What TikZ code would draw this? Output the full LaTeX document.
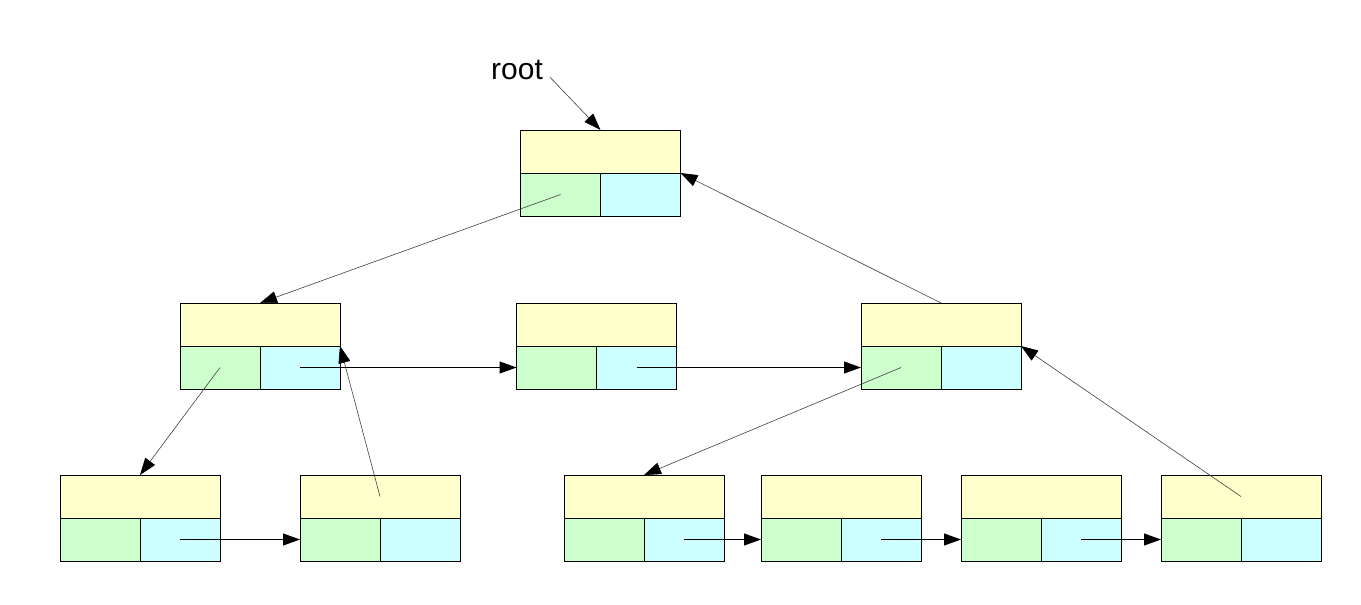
\documentclass[tikz,border=0pt]{standalone}
\usepackage{fontspec}
\setmainfont{Liberation Sans}
\usetikzlibrary{arrows.meta}
\definecolor{cy}{HTML}{FFFFCC}
\definecolor{cg}{HTML}{CCFFCC}
\definecolor{cc}{HTML}{CCFFFF}
\tikzset{
  cell/.style={draw=black,line width=1pt,inner sep=0pt,outer sep=0pt,minimum height=43pt},
  ycell/.style={cell,fill=cy,minimum width=160pt},
  gcell/.style={cell,fill=cg,minimum width=80pt},
  ccell/.style={cell,fill=cc,minimum width=80pt},
  tip/.style={-{Triangle[length=17pt,width=12pt,fill=black,color=black]}},
  thinarrow/.style={tip,draw=black!75,line width=0.6pt},
  flatarrow/.style={tip,draw=black,line width=1pt},
}
\newcommand{\bx}[3]{%
  \node[ycell] (#1-t) at (#2+80,#3+21.5) {};
  \node[gcell] (#1-g) at (#2+40,#3+64.5) {};
  \node[ccell] (#1-c) at (#2+120,#3+64.5) {};
}
\begin{document}
\begin{tikzpicture}[x=1pt,y=-1pt]
\useasboundingbox[fill=white] (0,0) rectangle (1361,605);
\bx{R}{520.5}{130}
\bx{A}{180}{303}
\bx{B}{516.5}{303}
\bx{C}{861}{303}
\bx{D}{60}{475}
\bx{E}{300}{475}
\bx{F}{564}{475}
\bx{G}{761}{475}
\bx{H}{961}{475}
\bx{I}{1161}{475}
\node[font=\fontsize{30}{36}\selectfont,inner sep=0pt] (rootlbl) at (517,70) {root};
\draw[thinarrow,shorten <=10pt] (rootlbl.east) -- (R-t.north);
\draw[thinarrow] (R-g.center) -- (A-t.north);
\draw[thinarrow] (C-t.north) -- (R-t.south east);
\draw[thinarrow] (A-g.center) -- (D-t.north);
\draw[thinarrow] (E-t.center) -- (A-t.south east);
\draw[thinarrow] (C-g.center) -- (F-t.north);
\draw[thinarrow] (I-t.center) -- (C-t.south east);
\draw[flatarrow] (A-c.center) -- (B-g.west);
\draw[flatarrow] (B-c.center) -- (C-g.west);
\draw[flatarrow] (D-c.center) -- (E-g.west);
\draw[flatarrow] (F-c.center) -- (G-g.west);
\draw[flatarrow] (G-c.center) -- (H-g.west);
\draw[flatarrow] (H-c.center) -- (I-g.west);
\end{tikzpicture}
\end{document}
